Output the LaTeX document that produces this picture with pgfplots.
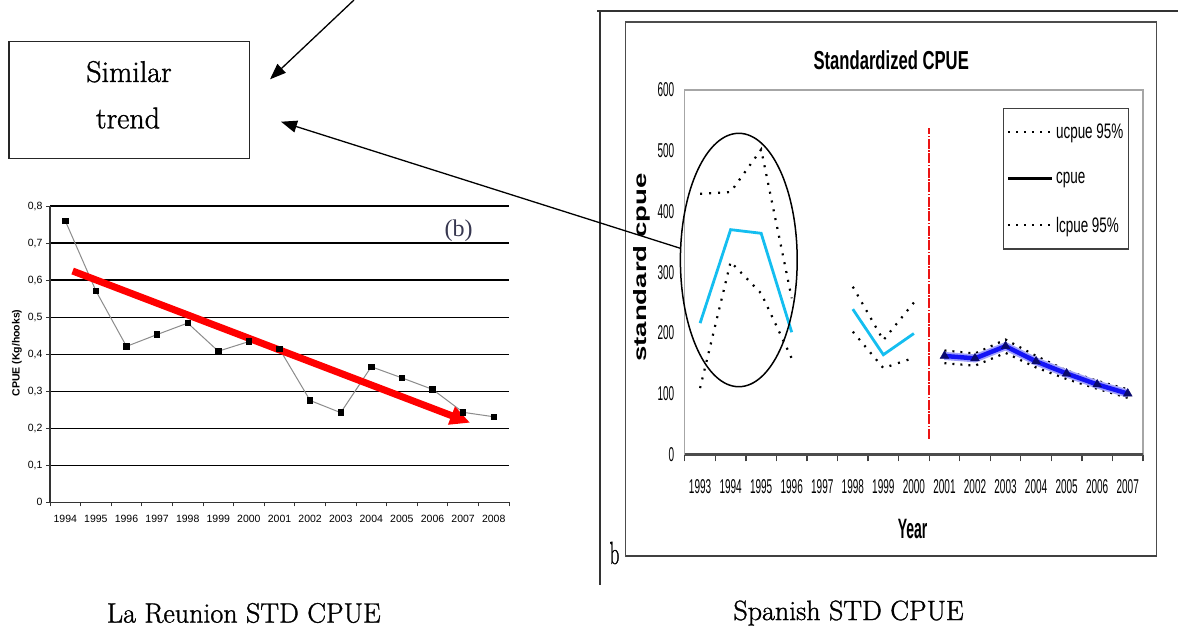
\documentclass[border=0pt]{standalone}
\usepackage{pgfplots}
\pgfplotsset{compat=1.18}
\usepackage{fontspec}
\usetikzlibrary{arrows.meta}
\newfontfamily\arial{Liberation Sans}
\newfontfamily\arialL[FakeStretch=0.64]{Liberation Sans}
\newfontfamily\arialY[FakeStretch=0.5]{Liberation Sans}
\newfontfamily\serifT{Liberation Serif}
\newfontfamily\lmheavy[FakeBold=1.2]{Latin Modern Roman}
\newcommand\fs[1]{\fontsize{#1pt}{#1pt}\selectfont}
\definecolor{cpuecyan}{RGB}{20,190,240}
\definecolor{cpueblue}{RGB}{20,20,245}
\definecolor{navy2}{RGB}{10,10,110}
\definecolor{bcol}{RGB}{55,55,80}
\definecolor{sepred}{RGB}{235,20,20}
\begin{document}
\begin{tikzpicture}
\path[fill=white, use as bounding box] (0pt,0pt) rectangle (1178pt,-633pt);
\begin{scope}[x=1pt,y=-1pt]
 % right chart frames
 \draw[line width=1.5pt, black!80] (597,11) -- (1178,11);
 \draw[line width=1.5pt, black!80] (600,11) -- (600,585);
 \draw[line width=1.2pt, black!70] (625.8,22) rectangle (1156.6,556);
 \draw[line width=2.5pt, black!75] (625.8,556) -- (1156.6,556);
 \node at (614.5,553) {\scalebox{0.6}[1]{\lmheavy\fs{32}b}};
 \node[font=\arialL\bfseries\fs{26}] at (891.2,60) {Standardized CPUE};
 \node[font=\arialY\bfseries\fs{28}] at (912.6,529.3) {Year};
 \node[rotate=90] at (641.5,267.5) {\scalebox{1}[0.65]{\arial\bfseries\fs{27.6}standard cpue}};
 % left annotations
 \node[rotate=90, font=\arial\bfseries\fs{10.5}] at (17,353) {CPUE (Kg/hooks)};
 \node[font=\serifT\fs{24}, text=bcol] at (458.5,230.7) {(b)};
 % captions
 \node[font=\lmheavy\fs{28}] at (243.8,613) {La Reunion STD CPUE};
 \node[font=\lmheavy\fs{28}] at (848.5,613) {Spanish STD CPUE};
 % box
 \draw[line width=1.4pt, black!85] (9,41.7) rectangle (249.3,158.3);
 \node[font=\lmheavy\fs{30}] at (129,71.7) {Similar};
 \node[font=\lmheavy\fs{30}] at (128,118) {trend};
\end{scope}

% Left chart
\begin{axis}[
 at={(50pt,-502.3pt)}, anchor=south west, scale only axis,
 width=459pt, height=296.3pt,
 xmin=-0.5, xmax=14.5, ymin=0, ymax=0.8,
 axis x line*=bottom, axis y line*=left,
 axis line style={-, draw=black!80, line width=1.2pt},
 xtick={-0.5,0.5,...,14.5}, x tick label as interval,
 xticklabels={1994,1995,1996,1997,1998,1999,2000,2001,2002,2003,2004,2005,2006,2007,2008},
 ytick={0,0.1,0.2,0.3,0.4,0.5,0.6,0.7,0.8},
 ymajorgrids, grid style={black, line width=1.2pt},
 tick align=outside, major tick length=4pt,
 tick style={black!80, line width=1pt},
 yticklabel style={/pgf/number format/.cd, fixed, precision=1, use comma},
 ticklabel style={font=\arial\fs{10.5}},
 xticklabel style={yshift=-5pt},
 /pgf/number format/assume math mode=true,
 clip=false,
]
\addplot[color=gray!90, line width=1pt, mark=square*, mark size=2.7pt, mark options={fill=black,draw=black}]
 coordinates {(0,0.760)(1,0.571)(2,0.421)(3,0.453)(4,0.484)(5,0.408)(6,0.434)(7,0.414)(8,0.275)(9,0.242)(10,0.366)(11,0.336)(12,0.305)(13,0.243)(14,0.231)};
\addplot[red, line width=7pt, -{Triangle[length=20pt,width=18pt]}]
 coordinates {(0.24,0.6245)(13.23,0.2149)};
\end{axis}

% Right chart
\begin{axis}[
 at={(684.8pt,-454.3pt)}, anchor=south west, scale only axis,
 width=458.2pt, height=364.3pt,
 xmin=-0.5, xmax=14.5, ymin=0, ymax=600,
 axis line style={draw=black!35, line width=1.2pt},
 xtick={-0.5,0.5,...,14.5}, x tick label as interval,
 xticklabels={1993,1994,1995,1996,1997,1998,1999,2000,2001,2002,2003,2004,2005,2006,2007},
 xtick pos=bottom, ytick pos=left,
 ytick={0,100,200,300,400,500,600},
 tick align=outside, major tick length=7pt,
 xtick style={draw=black!75, line width=1.2pt},
 ytick style={draw=none},
 ticklabel style={font=\arialY\fs{20}},
 xticklabel style={yshift=-15pt},
 /pgf/number format/assume math mode=true,
 legend style={at={(rel axis cs:0.694,0.9514)}, anchor=north west, draw=black!75, line width=1.6pt, fill=white,
   inner xsep=3pt, inner ysep=13.5pt, row sep=28pt, font=\arialL\fs{21}, nodes={inner sep=2pt}},
 legend cell align=left,
 legend image code/.code={\draw[#1] (0pt,0pt) -- (44pt,0pt);},
 after end axis/.code={\draw[black!70, line width=2.5pt] (rel axis cs:0,0) -- (rel axis cs:1,0);},
]
\addlegendimage{black, line width=2pt, dash pattern=on 2pt off 6pt}
\addlegendentry{ucpue 95\%}
\addlegendimage{black, line width=3.5pt}
\addlegendentry{cpue}
\addlegendimage{black, line width=2pt, dash pattern=on 2pt off 6pt}
\addlegendentry{lcpue 95\%}
% 1993-1996
\addplot[forget plot, black, line width=2.2pt, dash pattern=on 2pt off 7pt] coordinates {(0,429)(1,432)(2,502)(3,257)};
\addplot[forget plot, black, line width=2.2pt, dash pattern=on 2pt off 7pt] coordinates {(0,109)(1,317)(2,265)(3,158)};
\addplot[forget plot, cpuecyan, line width=2.8pt] coordinates {(0,216)(1,370)(2,364)(3,201)};
% 1998-2000
\addplot[forget plot, black, line width=2.2pt, dash pattern=on 2pt off 7pt] coordinates {(5,276)(6,188)(7,250)};
\addplot[forget plot, black, line width=2.2pt, dash pattern=on 2pt off 7pt] coordinates {(5,202)(6,142)(7,159)};
\addplot[forget plot, cpuecyan, line width=2.8pt] coordinates {(5,239)(6,164)(7,199)};
% 2001-2007
\addplot[forget plot, black, line width=2.2pt, dash pattern=on 2pt off 6pt] coordinates {(8,171)(9,166)(10,189)(11,162)(12,138)(13,121)(14,107)};
\addplot[forget plot, black, line width=2.2pt, dash pattern=on 2pt off 6pt] coordinates {(8,150)(9,146)(10,167)(11,143)(12,124)(13,108)(14,93)};
\addplot[forget plot, cpueblue!40, line width=8pt] coordinates {(8,162)(9,158)(10,178)(11,153)(12,133)(13,115)(14,100)};
\addplot[forget plot, cpueblue, line width=4.5pt, mark=triangle*, mark size=5pt, mark options={fill=navy2, draw=navy2, line width=0.5pt}] coordinates {(8,162)(9,158)(10,178)(11,153)(12,133)(13,115)(14,100)};
% separator
\addplot[forget plot, color=sepred, line width=1.6pt, dash pattern=on 10pt off 1.5pt on 1.5pt off 1.5pt] coordinates {(7.5,26)(7.5,538)};
\end{axis}

\begin{scope}[x=1pt,y=-1pt]
 \draw[line width=1.5pt] (738.8,260) ellipse [x radius=58.4, y radius=126.7];
 \draw[line width=1.3pt, -{Triangle[length=16pt,width=12pt]}] (354,0) -- (270,79.3);
 \draw[line width=1.3pt, -{Triangle[length=16pt,width=12pt]}] (680.4,248.3) -- (281,121.7);
\end{scope}
\end{tikzpicture}
\end{document}
